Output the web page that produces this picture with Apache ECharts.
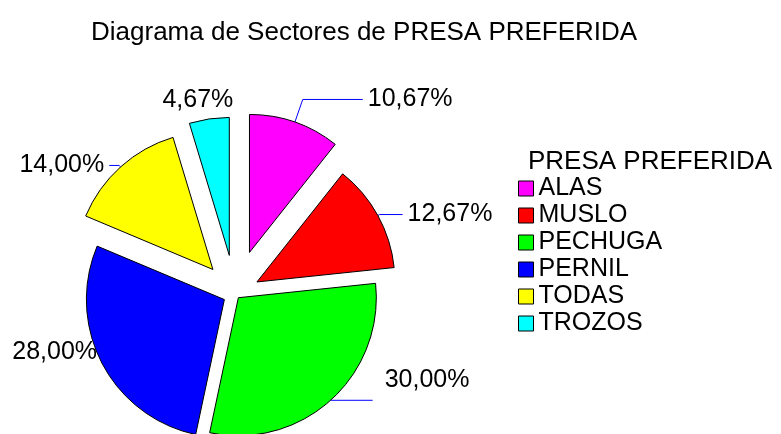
<!DOCTYPE html>
<html>
<head>
<meta charset="utf-8">
<script src="https://cdn.jsdelivr.net/npm/echarts@6/dist/echarts.min.js"></script>
<style>
html,body{margin:0;padding:0;background:#fff;}
#main{width:781px;height:434px;}
</style>
</head>
<body>
<div id="main"></div>
<script>
var categories=['ALAS','MUSLO','PECHUGA','PERNIL','TODAS','TROZOS']
var percents=[10.67,12.67,30.00,28.00,14.00,4.67]
var colors=['#ff00ff','#ff0000','#00ff00','#0000ff','#ffff00','#00ffff']
// cada sector va separado una distancia distinta (como en el original)
var explode=[44,25,5,12,33,39]
var showLine=[true,true,true,false,true,false]
var lineLen=[24,2,0,0,2,19]
var lineLen2=[60,23,42,0,10,0]
var labelDx=[0,0,7,0,0,32]
var labelDy=[0,0,-20,-11,0,0]

var myChart=echarts.init(document.getElementById('main'))
var font='"Liberation Sans", Arial, sans-serif'

// una serie por sector: solo se ve su propio sector, los demas quedan transparentes
var series=categories.map(function(cat,k){
    var s={
        type:'pie',
        center:[235,294],
        radius:138,
        startAngle:90,
        clockwise:true,
        selectedMode:'multiple',
        selectedOffset:explode[k],
        avoidLabelOverlap:false,
        emphasis:{disabled:true},
        label:{
            position:'outside',
            fontFamily:font,
            fontSize:25,
            color:'#000',
            formatter:function(p){return p.value.toFixed(2).replace('.',',')+'%'}
        },
        labelLine:{lineStyle:{color:'#0000ff',width:1}},
        data:categories.map(function(c,i){
            var me=i===k
            return {
                name:c,
                value:percents[i],
                selected:me,
                itemStyle:me?{color:colors[i],borderColor:'#000',borderWidth:1}:{color:'rgba(0,0,0,0)',borderWidth:0},
                label:{show:me},
                labelLine:{show:me&&showLine[i],length:lineLen[i],length2:lineLen2[i]}
            }
        })
    }
    if(labelDx[k]||labelDy[k]){
        s.labelLayout={dx:labelDx[k],dy:labelDy[k]}
    }
    return s
})

var option={
    animation:false,
    title:[
        {
            text:'Diagrama de Sectores de PRESA PREFERIDA',
            left:91,
            top:20,
            padding:0,
            textStyle:{fontFamily:font,fontSize:26,fontWeight:'normal',color:'#000'}
        },
        {
            text:'PRESA PREFERIDA',//titulo de la leyenda
            left:528,
            top:149,
            padding:0,
            textStyle:{fontFamily:font,fontSize:26,fontWeight:'normal',color:'#000'}
        }
    ],
    legend:{
        orient:'vertical',
        left:518,
        top:176,
        padding:0,
        itemWidth:15,
        itemHeight:15,
        itemGap:2,
        icon:'rect',
        textStyle:{fontFamily:font,fontSize:25,color:'#000'},
        data:categories.map(function(c,i){
            return {name:c,itemStyle:{color:colors[i],borderColor:'#000',borderWidth:1}}
        })
    },
    series:series
}
myChart.setOption(option)
</script>
</body>
</html>
